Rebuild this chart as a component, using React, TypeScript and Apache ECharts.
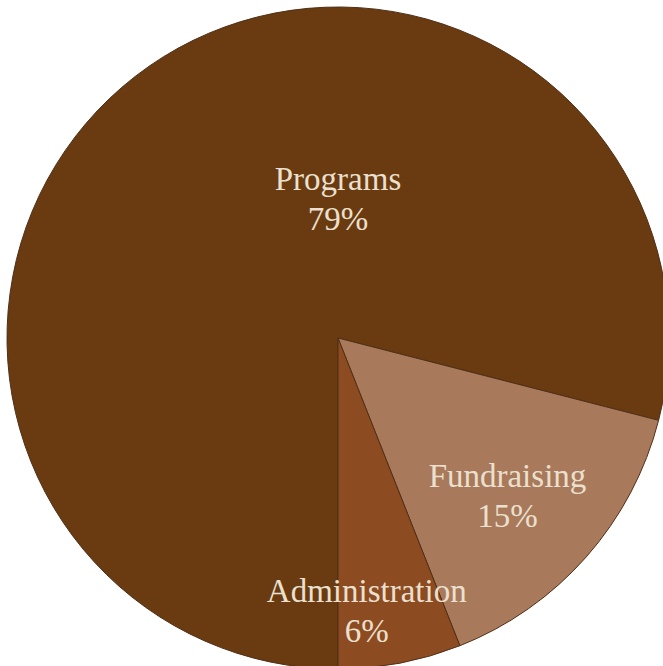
import React, { useEffect, useRef } from "react";
import * as echarts from "echarts";

const categories = ["Programs", "Fundraising", "Administration"];
const values = [79, 15, 6];
const colors = ["#6a3a10", "#a8795a", "#8d4b21"];
// label placement: [angle in degrees (math, CCW from east), fraction of radius]
const labelSpots: [number, number][] = [
  [90, 0.42],
  [-43, 0.7],
  [-84, 0.83],
];

const W = 663;
const H = 666;
const CX = 338;
const CY = 338;
const R = 331;

export default function App() {
  const ref = useRef<HTMLDivElement>(null);
  useEffect(() => {
    if (!ref.current) return;
    const chart = echarts.init(ref.current, undefined, { renderer: "svg" });
    chart.setOption({
      animation: false,
      backgroundColor: "#ffffff",
      series: [
        {
          type: "pie",
          center: [CX, CY],
          radius: [0, R],
          startAngle: 270,
          clockwise: true,
          avoidLabelOverlap: false,
          data: categories.map((c, i) => ({
            name: c,
            value: values[i],
            itemStyle: { color: colors[i] },
          })),
          itemStyle: { borderColor: "#4f3018", borderWidth: 1 },
          label: {
            show: true,
            position: "inside",
            formatter: "{b}\n{c}%",
            color: "#ebe0cf",
            fontFamily: "'Liberation Serif', 'DejaVu Serif', serif",
            fontSize: 33,
            lineHeight: 40,
            align: "center",
            verticalAlign: "middle",
          },
          labelLine: { show: false },
          labelLayout: (p: any) => {
            const [ang, f] = labelSpots[p.dataIndex];
            const a = (ang * Math.PI) / 180;
            return {
              x: CX + Math.cos(a) * R * f,
              y: CY - Math.sin(a) * R * f,
              align: "center",
              verticalAlign: "middle",
            };
          },
          emphasis: { disabled: true },
        },
      ],
    });
    return () => chart.dispose();
  }, []);
  return (
    <div
      ref={ref}
      style={{ position: "absolute", left: 0, top: 0, width: W, height: H }}
    />
  );
}
